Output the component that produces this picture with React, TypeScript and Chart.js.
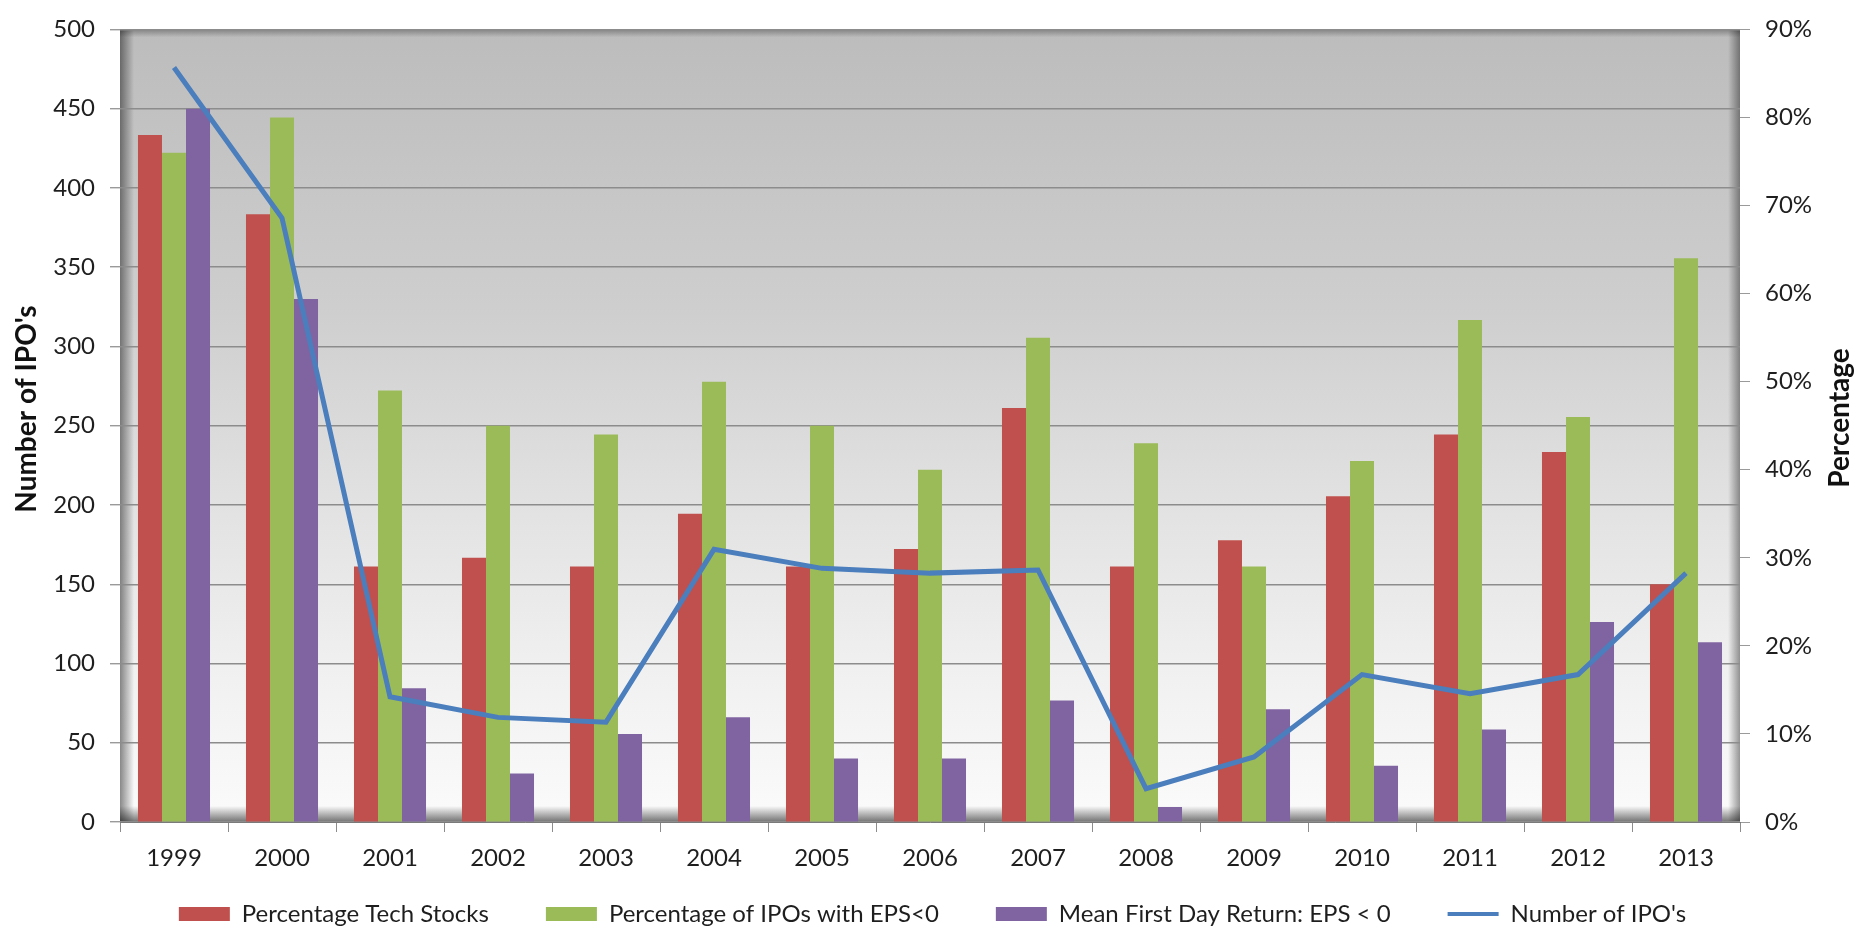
import React, { useEffect, useRef } from 'react';
import { Chart, registerables } from 'chart.js';

Chart.register(...registerables);

const years = ['1999', '2000', '2001', '2002', '2003', '2004', '2005', '2006', '2007', '2008', '2009', '2010', '2011', '2012', '2013'];
const techStocksPct = [78, 69, 29, 30, 29, 35, 29, 31, 47, 29, 32, 37, 44, 42, 27];
const epsNegativePct = [76, 80, 49, 45, 44, 50, 45, 40, 55, 43, 29, 41, 57, 46, 64];
const meanFirstDayReturnPct = [81, 59.4, 15.2, 5.5, 10, 11.9, 7.2, 7.2, 13.8, 1.7, 12.8, 6.4, 10.5, 22.7, 20.4];
const ipoCounts = [476, 381, 79, 66, 63, 172, 160, 157, 159, 21, 41, 93, 81, 93, 157];

const leftTitle = "Number of IPO's";
const rightTitleText = 'Percentage';

const FONT = "Lato, 'Liberation Sans', sans-serif";
const TEXT = '#1e1e1e';

const plotBackground = {
  id: 'plotBackground',
  afterLayout(chart: any) {
    // let the x-axis labels draw below its (deliberately short) box
    const xs = chart.scales.x;
    if (xs) xs.bottom = chart.height;
  },
  beforeDraw(chart: any) {
    const { ctx, chartArea: a } = chart;
    const w = a.right - a.left;
    const h = a.bottom - a.top;
    ctx.save();
    const g = ctx.createLinearGradient(0, a.top, 0, a.bottom);
    g.addColorStop(0, '#bcbcbc');
    g.addColorStop(0.35, '#cecece');
    g.addColorStop(0.6, '#e2e2e2');
    g.addColorStop(0.82, '#f1f1f1');
    g.addColorStop(1, '#fbfbfb');
    ctx.fillStyle = g;
    ctx.fillRect(a.left, a.top, w, h);
    const shade = (x0: number, y0: number, x1: number, y1: number, r: number[], alpha: number) => {
      const s = ctx.createLinearGradient(x0, y0, x1, y1);
      s.addColorStop(0, `rgba(0,0,0,${alpha})`);
      s.addColorStop(1, 'rgba(0,0,0,0)');
      ctx.fillStyle = s;
      ctx.fillRect(r[0], r[1], r[2], r[3]);
    };
    shade(a.left, 0, a.left + 14, 0, [a.left, a.top, 14, h], 0.45);
    shade(a.right, 0, a.right - 12, 0, [a.right - 12, a.top, 12, h], 0.4);
    shade(0, a.bottom, 0, a.bottom - 16, [a.left, a.bottom - 16, w, 16], 0.55);
    shade(0, a.top, 0, a.top + 8, [a.left, a.top, w, 8], 0.3);
    ctx.restore();
  },
  afterDraw(chart: any) {
    const { ctx } = chart;
    ctx.save();
    ctx.font = `bold 28px ${FONT}`;
    ctx.fillStyle = '#111';
    ctx.textAlign = 'center';
    ctx.textBaseline = 'middle';
    ctx.save();
    ctx.translate(27, 409);
    ctx.rotate(-Math.PI / 2);
    ctx.fillText(leftTitle, 0, 0);
    ctx.restore();
    ctx.save();
    ctx.translate(1840, 418);
    ctx.rotate(-Math.PI / 2);
    ctx.fillText(rightTitleText, 0, 0);
    ctx.restore();
    ctx.restore();
  },
};

export default function App() {
  const ref = useRef<HTMLCanvasElement | null>(null);

  useEffect(() => {
    let chart: any = null;
    let cancelled = false;
    const barCommon = { borderWidth: 0, yAxisID: 'y1', order: 1, categoryPercentage: 0.667, barPercentage: 1 };
    const build = () => {
      if (cancelled || !ref.current) return;
      chart = new Chart(ref.current, {
        type: 'bar',
        data: {
          labels: years,
          datasets: [
            { type: 'bar', label: 'Percentage Tech Stocks', data: techStocksPct, backgroundColor: '#C0504D', ...barCommon },
            { type: 'bar', label: 'Percentage of IPOs with EPS<0', data: epsNegativePct, backgroundColor: '#9BBB59', ...barCommon },
            { type: 'bar', label: 'Mean First Day Return: EPS < 0', data: meanFirstDayReturnPct, backgroundColor: '#8064A2', ...barCommon },
            {
              type: 'line',
              label: "Number of IPO's",
              data: ipoCounts,
              borderColor: '#4A7EBD',
              backgroundColor: '#4A7EBD',
              borderWidth: 5,
              pointRadius: 0,
              tension: 0,
              yAxisID: 'y',
              order: 0,
            },
          ],
        } as any,
        options: {
          animation: false,
          responsive: false,
          maintainAspectRatio: false,
          layout: { padding: { top: 27, left: 0, right: 0, bottom: 15 } },
          plugins: {
            tooltip: { enabled: false },
            legend: {
              position: 'bottom',
              labels: {
                font: { family: FONT, size: 24 },
                color: TEXT,
                padding: 57,
                usePointStyle: true,
                pointStyleWidth: 51,
                boxHeight: 14,
                generateLabels: (c: any) =>
                  (Chart.defaults.plugins.legend.labels as any).generateLabels(c).map((l: any) => ({
                    ...l,
                    pointStyle: l.datasetIndex === 3 ? 'line' : 'rect',
                    lineWidth: l.datasetIndex === 3 ? 4 : 0,
                    rotation: 0,
                  })),
                sort: (a: any, b: any) => a.datasetIndex - b.datasetIndex,
              },
            },
          },
          scales: {
            x: {
              offset: true,
              grid: { offset: true, drawOnChartArea: false, drawTicks: true, tickLength: 10, color: '#8c8c8c' },
              border: { color: '#7a7a7a' },
              ticks: { font: { family: FONT, size: 24 }, color: TEXT, padding: 12, maxRotation: 0, autoSkip: false },
              afterFit: (s: any) => {
                s.height = 23;
              },
            },
            y: {
              position: 'left',
              min: 0,
              max: 500,
              ticks: { stepSize: 50, font: { family: FONT, size: 24 }, color: TEXT, padding: 15 },
              grid: { color: '#8c8c8c', lineWidth: 1.4, tickLength: 10, tickColor: '#9a9a9a' },
              border: { display: false },
              afterFit: (s: any) => {
                s.width = 120;
              },
            },
            y1: {
              position: 'right',
              min: 0,
              max: 90,
              ticks: {
                stepSize: 10,
                font: { family: FONT, size: 24 },
                color: TEXT,
                padding: 15,
                callback: (v: any) => `${v}%`,
              },
              grid: { drawOnChartArea: false, tickLength: 10, color: '#9a9a9a' },
              border: { display: false },
              afterFit: (s: any) => {
                s.width = 125;
              },
            },
          },
        } as any,
        plugins: [plotBackground],
      });
    };
    const fontsReady = (document as any).fonts
      ? Promise.all([
          (document as any).fonts.load(`24px Lato`),
          (document as any).fonts.load(`bold 28px Lato`),
        ]).catch(() => null)
      : Promise.resolve(null);
    fontsReady.then(build);
    return () => {
      cancelled = true;
      if (chart) chart.destroy();
    };
  }, []);

  return (
    <div style={{ position: 'absolute', left: 0, top: 0, width: 1865, height: 951, background: '#fff' }}>
      <canvas ref={ref} width={1865} height={951} style={{ display: 'block', width: 1865, height: 951 }} />
    </div>
  );
}
